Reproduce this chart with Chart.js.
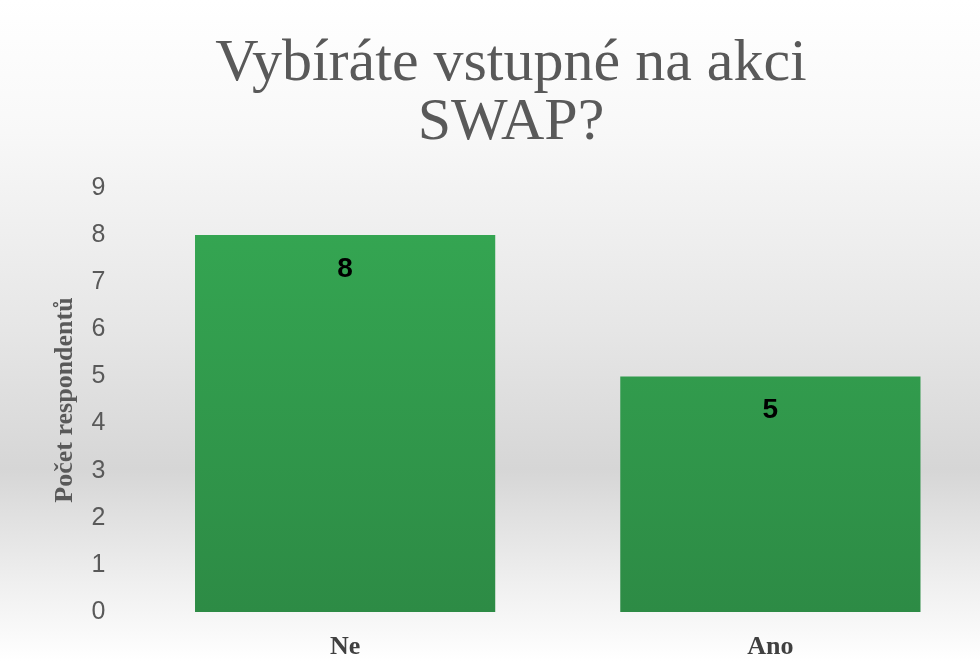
<!DOCTYPE html>
<html lang="cs">

<head>
  <meta charset="UTF-8">
  <meta name="viewport" content="width=device-width, initial-scale=1.0">
  <script src="https://cdn.jsdelivr.net/npm/chart.js@4.4.1/dist/chart.umd.min.js"></script>
  <style>
    html, body {
      margin: 0;
      padding: 0;
      overflow: hidden;
      background: #fff;
    }
    #wrap {
      width: 983px;
      height: 661px;
    }
  </style>
  <title>Vybíráte vstupné na akci SWAP?</title>
</head>

<body>
  <div id="wrap">
    <canvas id="chart"></canvas>
  </div>

  <script>
    // chart data
    const titleLines = ['Vybíráte vstupné na akci', 'SWAP?'];
    const categories = ['Ne', 'Ano'];
    const counts = [8, 5];
    const yTitle = 'Počet respondentů';

    const grey = '#595959';

    // soft grey background band behind the plot
    const backgroundPlugin = {
      id: 'background',
      beforeDraw(chart) {
        const ctx = chart.ctx;
        const g = ctx.createLinearGradient(0, 0, 0, chart.height);
        g.addColorStop(0, '#ffffff');
        g.addColorStop(0.2, '#f8f8f8');
        g.addColorStop(0.5, '#e6e6e6');
        g.addColorStop(0.71, '#d6d6d6');
        g.addColorStop(0.88, '#efefef');
        g.addColorStop(1, '#ffffff');
        ctx.save();
        ctx.fillStyle = g;
        ctx.fillRect(0, 0, chart.width, chart.height);
        ctx.restore();
      }
    };

    // title drawn by hand so it can sit a bit right of centre
    const titlePlugin = {
      id: 'titleText',
      afterDraw(chart) {
        const ctx = chart.ctx;
        ctx.save();
        ctx.fillStyle = grey;
        ctx.font = '60px "Liberation Serif", "Times New Roman", serif';
        ctx.textAlign = 'center';
        ctx.textBaseline = 'alphabetic';
        titleLines.forEach(function (line, i) {
          ctx.fillText(line, 511, 80 + i * 59);
        });
        ctx.restore();
      }
    };

    // value labels inside the top of each bar
    const valuePlugin = {
      id: 'values',
      afterDatasetsDraw(chart) {
        const ctx = chart.ctx;
        const meta = chart.getDatasetMeta(0);
        ctx.save();
        ctx.fillStyle = '#000';
        ctx.font = 'bold 28px "Liberation Sans", Arial, sans-serif';
        ctx.textAlign = 'center';
        ctx.textBaseline = 'middle';
        meta.data.forEach(function (bar, i) {
          ctx.fillText(counts[i], bar.x, bar.y + 34);
        });
        ctx.restore();
      }
    };

    const ctx = document.getElementById('chart').getContext('2d');

    function barFill(context) {
      const area = context.chart.chartArea;
      if (!area) return '#32a050';
      const g = context.chart.ctx.createLinearGradient(0, area.top, 0, area.bottom);
      g.addColorStop(0, '#35a853');
      g.addColorStop(1, '#2d8b45');
      return g;
    }

    new Chart(ctx, {
      type: 'bar',
      data: {
        labels: categories,
        datasets: [{
          data: counts,
          backgroundColor: barFill,
          borderWidth: 0,
          categoryPercentage: 1,
          barPercentage: 0.706
        }]
      },
      options: {
        responsive: true,
        maintainAspectRatio: false,
        animation: false,
        layout: {
          padding: { top: 188, left: 0, right: 0, bottom: 0 }
        },
        plugins: {
          legend: { display: false },
          title: { display: false },
          tooltip: { enabled: false }
        },
        scales: {
          x: {
            grid: { display: false, drawTicks: false },
            border: { display: false },
            ticks: {
              color: '#404040',
              padding: 20,
              font: { family: '"Liberation Serif", "Times New Roman", serif', size: 26, weight: 'bold' }
            },
            afterFit(scale) { scale.height = 49; }
          },
          y: {
            min: 0,
            max: 9,
            grid: { display: false, drawTicks: false },
            border: { display: false },
            ticks: {
              stepSize: 1,
              color: grey,
              padding: 27,
              font: { family: '"Liberation Sans", Arial, sans-serif', size: 25 }
            },
            title: {
              display: true,
              text: yTitle,
              color: grey,
              padding: { top: 50, bottom: 0 },
              font: { family: '"Liberation Serif", "Times New Roman", serif', size: 26, weight: 'bold' }
            },
            afterFit(scale) { scale.width = 132.5; }
          }
        }
      },
      plugins: [backgroundPlugin, titlePlugin, valuePlugin]
    });
  </script>
</body>

</html>
